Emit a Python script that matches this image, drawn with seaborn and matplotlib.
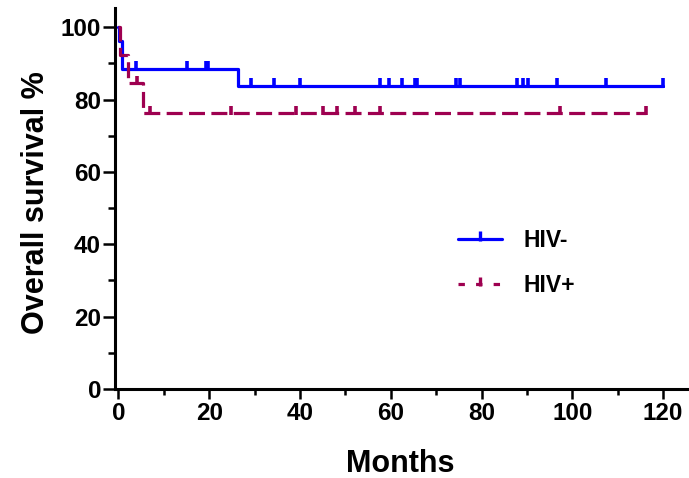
import numpy as np
import pandas as pd
import matplotlib
matplotlib.use("Agg")
import matplotlib.pyplot as plt
import seaborn as sns
from matplotlib.path import Path
from matplotlib.lines import Line2D
from matplotlib.ticker import MultipleLocator

# ---- data ----
groups = ["HIV-", "HIV+"]
neg_time = [0, 0.1, 0.85, 26.4, 120.0]
neg_surv = [100, 96.2, 88.5, 83.8, 83.8]
pos_time = [0, 0.3, 2.2, 5.3, 116.3]
pos_surv = [100, 92.3, 84.6, 76.2, 76.2]

neg_cens_time = [3.8, 15.2, 19.3, 19.8, 29.2, 34.2, 40.0, 57.6, 59.7, 62.4,
                 65.3, 65.7, 74.3, 75.2, 87.9, 89.2, 90.3, 96.7, 107.5, 120.0]
neg_cens_surv = [88.5] * 4 + [83.8] * 16
pos_cens_time = [4.0, 7.0, 24.7, 39.1, 45.0, 48.1, 52.1, 57.6, 97.2, 116.3]
pos_cens_surv = [84.6] + [76.2] * 9

x_ticks = [0, 20, 40, 60, 80, 100, 120]
y_ticks = [0, 20, 40, 60, 80, 100]

colors = {"HIV-": "#0000FF", "HIV+": "#9E0050"}

sns.set_style("ticks")
plt.rcParams["font.family"] = ["Liberation Sans", "DejaVu Sans"]
plt.rcParams["font.weight"] = "bold"
plt.rcParams["text.color"] = "black"
plt.rcParams["axes.labelcolor"] = "black"
plt.rcParams["xtick.color"] = "black"
plt.rcParams["ytick.color"] = "black"

df = pd.DataFrame({
    "t": neg_time + pos_time,
    "s": neg_surv + pos_surv,
    "g": ["HIV-"] * len(neg_time) + ["HIV+"] * len(pos_time),
})

fig = plt.figure(figsize=(6.89, 4.78), dpi=100)
ax = fig.add_axes([115 / 689, 89 / 478, (689 - 115) / 689, (389 - 8) / 478])

sns.lineplot(data=df, x="t", y="s", hue="g", style="g", palette=colors,
             dashes={"HIV-": "", "HIV+": (5, 2)}, drawstyle="steps-post",
             estimator=None, sort=False, linewidth=2.3, legend=False, ax=ax)

tick = Path([(0, -0.25), (0, 1.0)], [Path.MOVETO, Path.LINETO])
sns.scatterplot(x=neg_cens_time, y=neg_cens_surv, marker=tick, s=130,
                color=colors["HIV-"], edgecolor=colors["HIV-"], linewidth=2.6,
                ax=ax, zorder=3)
sns.scatterplot(x=pos_cens_time, y=pos_cens_surv, marker=tick, s=100,
                color=colors["HIV+"], edgecolor=colors["HIV+"], linewidth=2.6,
                ax=ax, zorder=3)

ax.set_xlim(-0.77, 125.7)
ax.set_ylim(0, 105.3)
ax.set_xticks(x_ticks)
ax.set_yticks(y_ticks)
ax.xaxis.set_minor_locator(MultipleLocator(10))
ax.yaxis.set_minor_locator(MultipleLocator(10))
sns.despine(ax=ax)
for sp in ["left", "bottom"]:
    ax.spines[sp].set_linewidth(2.2)
    ax.spines[sp].set_color("black")
ax.tick_params(axis="y", which="major", length=9, width=1.8, pad=1, labelsize=17.5, colors="black")
ax.tick_params(axis="y", which="minor", length=5, width=1.8)
ax.tick_params(axis="x", which="major", length=7, width=1.8, pad=2, labelsize=17.5, colors="black")
ax.tick_params(axis="x", which="minor", length=4.5, width=1.8)
for lab in ax.get_xticklabels() + ax.get_yticklabels():
    lab.set_fontweight("bold")
    lab.set_color("black")

ax.set_xlabel("Months", fontsize=22, fontweight="bold", color="black")
ax.set_ylabel("Overall survival %", fontsize=22, fontweight="bold", color="black")
ax.xaxis.set_label_coords(0.497, -0.158)
ax.yaxis.set_label_coords(-0.111, 0.488)

handles = [
    Line2D([], [], color=colors["HIV-"], lw=2.3, marker=tick, markersize=12,
           markeredgewidth=2.4),
    Line2D([], [], color=colors["HIV+"], lw=2.3, ls=(0, (2, 3.5)), marker=tick,
           markersize=10, markeredgewidth=2.4),
]
fig.legend(handles, groups, loc="center left", bbox_to_anchor=(458 / 689, 0.45),
           frameon=False, handlelength=1.9, handletextpad=0.95,
           labelspacing=0.95, borderpad=0, borderaxespad=0, numpoints=1,
           prop={"weight": "bold", "size": 16.5})

fig.savefig("out.png", dpi=100)
